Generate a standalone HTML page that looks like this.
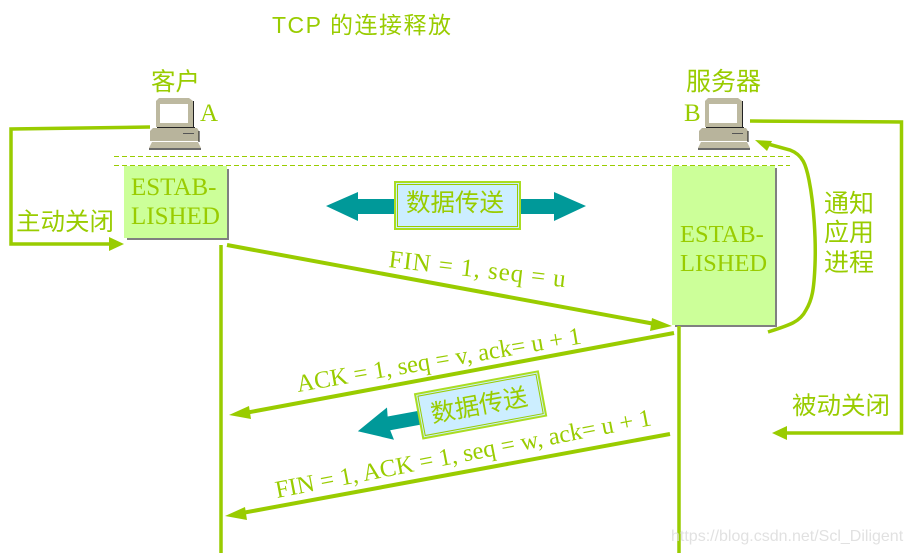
<!DOCTYPE html>
<html><head><meta charset="utf-8">
<style>
html,body{margin:0;padding:0;background:#fff;width:913px;height:553px;overflow:hidden}
svg{display:block}
text{fill:#99cc00}
.cn{font-family:"Liberation Sans","Noto Sans CJK SC",sans-serif;font-size:24.500px}
.sf{font-family:"Liberation Serif",serif;font-size:25px}
.r{font-family:"Liberation Serif",serif;font-size:24.500px}
</style></head><body>
<svg width="913" height="553" viewBox="0 0 913 553" xmlns="http://www.w3.org/2000/svg">
<defs>
<g id="pc">
<path d="M10 0H40L44 3V29H7V3Z" fill="#bdb9a0"/>
<rect x="11" y="6" width="28" height="19" fill="#fff"/>
<path d="M44.500 3V29M8 29.500H46" stroke="#222" stroke-width="1" fill="none"/>
<path d="M4 30H48L50 33V43H1V33Z" fill="#b8b49c"/>
<path d="M50 33V44" stroke="#111" stroke-width="1"/>
<rect x="34" y="35" width="11" height="1" fill="#555"/>
<path d="M3 44H49L52 50H0Z" fill="#c0bca4"/>
<path d="M0 51H52" stroke="#111" stroke-width="1.200"/>
</g>
</defs>

<text x="272" y="33" class="cn" style="font-size:23px" textLength="179">TCP 的连接释放</text>
<text x="151" y="90" class="cn">客户</text>
<text x="686" y="90" class="cn" style="font-size:25px">服务器</text>
<use href="#pc" x="149" y="98"/>
<use href="#pc" x="698" y="98"/>
<text x="200" y="121" class="sf">A</text>
<text x="684" y="121" class="sf">B</text>

<path d="M114 156.500H790M114 165.500H790" stroke="#99cc00" stroke-width="1" stroke-dasharray="5 3" fill="none"/>

<rect x="127" y="169" width="102" height="71" fill="#808080"/>
<rect x="124" y="166" width="103" height="72" fill="#ccff99"/>
<text x="131" y="195" class="sf">ESTAB-</text>
<text x="131" y="224" class="sf">LISHED</text>

<rect x="675" y="168" width="102" height="159" fill="#808080"/>
<rect x="672" y="166" width="103" height="159" fill="#ccff99"/>
<text x="680" y="242" class="sf" style="font-size:24.500px">ESTAB-</text>
<text x="680" y="271" class="sf" style="font-size:24.500px">LISHED</text>

<g fill="none" stroke="#99cc00" stroke-width="3.500">
<path d="M150 127L11 129V244H112"/>
<path d="M750 121L901.500 122V433H786"/>
<path d="M221 245V553M679 326V553"/>
<path d="M227 245L655 324" stroke-width="4"/>
<path d="M674 333L245 413" stroke-width="4"/>
<path d="M670 434L242 513" stroke-width="4"/>
<path d="M768 332C790 325 800 322 806 310C812 300 814 290 815 265C816 240 814 205 809 180C806 165 803 155 790 150L768 144"/>
</g>
<g fill="#99cc00">
<path d="M124 244L109 237V251Z"/>
<path d="M772 433L787 426V440Z"/>
<path d="M755 140L772 141L767 151Z"/>
<path d="M672 326L652 318L650 331Z"/>
<path d="M229 415L249 406L251 419Z"/>
<path d="M225 516L245 507L247 520Z"/>
</g>

<text x="16" y="230" class="cn">主动关闭</text>
<text x="824" y="212" class="cn" style="font-size:25px">通知</text>
<text x="824" y="241" class="cn" style="font-size:25px">应用</text>
<text x="824" y="271" class="cn" style="font-size:25px">进程</text>
<text x="792" y="414" class="cn">被动关闭</text>

<path d="M326 206L358 192V199H554V192L586 206L554 221V214H358V221Z" fill="#009999"/>
<rect x="395" y="182" width="125" height="47" fill="#cceeff" stroke="#aadd22" stroke-width="2"/>
<rect x="397.500" y="184.500" width="120" height="42" fill="none" stroke="#99cc00" stroke-width="1"/>
<text x="406" y="211" class="cn">数据传送</text>

<g transform="translate(480,404.500) rotate(-10.500)">
<path d="M-125 4L-92 -14L-93 -5H-55V9H-93L-91 19Z" fill="#009999"/>
<rect x="-62" y="-22" width="125" height="45" fill="#cceeff" stroke="#aadd22" stroke-width="2"/>
<rect x="-59.500" y="-19.500" width="120" height="40" fill="none" stroke="#99cc00" stroke-width="1"/>
<text x="-50" y="9" class="cn">数据传送</text>
</g>

<text transform="translate(388,267) rotate(6.500)" class="r" textLength="178" style="font-size:25px">FIN = 1, seq = u</text>
<text transform="translate(298,392) rotate(-9.700)" class="r">ACK = 1, seq = v, ack= u + 1</text>
<text transform="translate(277,498) rotate(-11)" class="r">FIN = 1, ACK = 1, seq = w, ack= u + 1</text>

<text x="671" y="541" style="font-family:'Liberation Sans',sans-serif;font-size:16px;fill:#d9d9d9;fill-opacity:.8">https://blog.csdn.net/Scl_Diligent</text>
</svg>
</body></html>
